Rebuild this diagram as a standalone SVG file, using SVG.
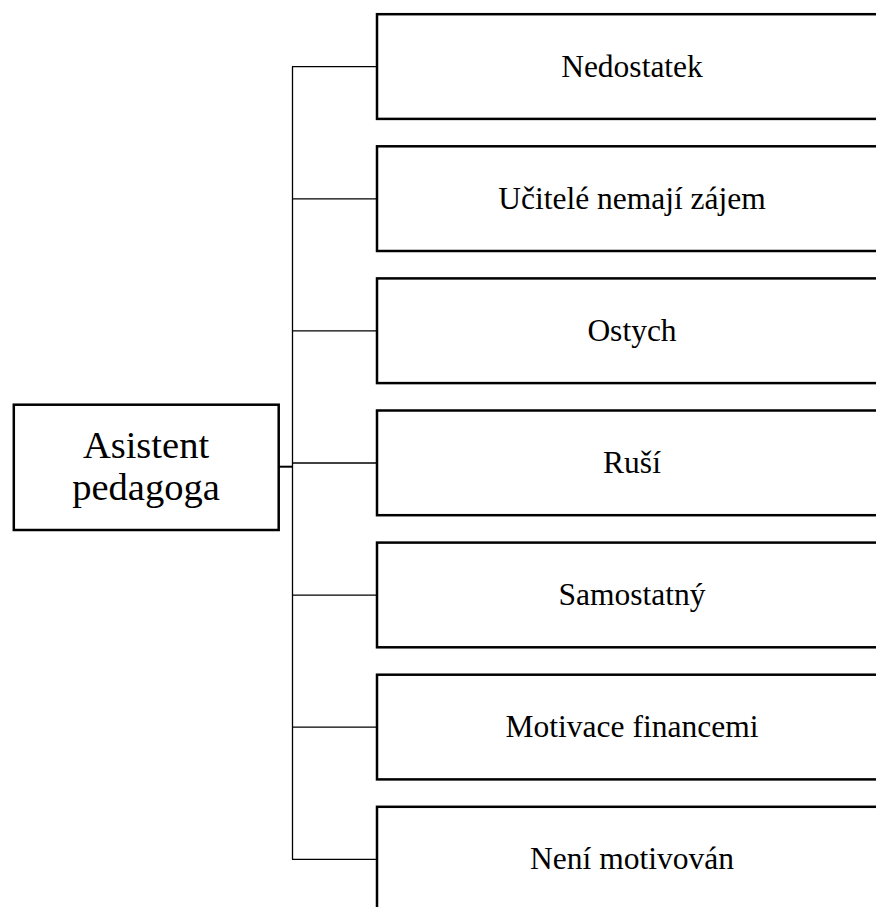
<svg xmlns="http://www.w3.org/2000/svg" width="876" height="907" viewBox="0 0 876 907">
  <style>
    .box { fill: #ffffff; stroke: #000000; stroke-width: 2.5; }
    .wire { fill: none; stroke: #000000; stroke-width: 1.3; }
    .stem { fill: none; stroke: #000000; stroke-width: 2; }
    .label { font-family: "Liberation Serif", "Times New Roman", serif; font-size: 31.5px; fill: #000000; text-anchor: middle; }
    .root { font-family: "Liberation Serif", "Times New Roman", serif; font-size: 38.5px; fill: #000000; text-anchor: middle; }
  </style>
  <rect width="876" height="907" fill="#ffffff"/>

  <g id="connectors">
    <line class="stem" x1="279" y1="466.7" x2="293" y2="466.7"/>
    <line class="wire" x1="292.5" y1="66.7" x2="292.5" y2="859.3"/>
    <line class="wire" x1="292" y1="66.7" x2="377" y2="66.7"/>
    <line class="wire" x1="292" y1="198.8" x2="377" y2="198.8"/>
    <line class="wire" x1="292" y1="330.9" x2="377" y2="330.9"/>
    <line class="wire" x1="292" y1="463" x2="377" y2="463"/>
    <line class="wire" x1="292" y1="595.1" x2="377" y2="595.1"/>
    <line class="wire" x1="292" y1="727.2" x2="377" y2="727.2"/>
    <line class="wire" x1="292" y1="859.3" x2="377" y2="859.3"/>
  </g>

  <g id="asistent-pedagoga">
    <rect class="box" x="13.8" y="404.7" width="264.9" height="125.3"/>
    <text class="root" x="146" y="458">Asistent</text>
    <text class="root" x="146" y="500">pedagoga</text>
  </g>

  <g id="nedostatek">
    <rect class="box" x="377" y="14.2" width="510" height="104.7"/>
    <text class="label" x="632" y="76.5">Nedostatek</text>
  </g>
  <g id="ucitele-nemaji-zajem">
    <rect class="box" x="377" y="146.3" width="510" height="104.7"/>
    <text class="label" x="632" y="208.8">Učitelé nemají zájem</text>
  </g>
  <g id="ostych">
    <rect class="box" x="377" y="278.4" width="510" height="104.7"/>
    <text class="label" x="632" y="340.9">Ostych</text>
  </g>
  <g id="rusi">
    <rect class="box" x="377" y="410.5" width="510" height="104.7"/>
    <text class="label" x="632" y="473">Ruší</text>
  </g>
  <g id="samostatny">
    <rect class="box" x="377" y="542.6" width="510" height="104.7"/>
    <text class="label" x="632" y="605.1">Samostatný</text>
  </g>
  <g id="motivace-financemi">
    <rect class="box" x="377" y="674.7" width="510" height="104.7"/>
    <text class="label" x="632" y="737.2">Motivace financemi</text>
  </g>
  <g id="neni-motivovan">
    <rect class="box" x="377" y="806.8" width="510" height="104.7"/>
    <text class="label" x="632" y="869.3">Není motivován</text>
  </g>
</svg>
